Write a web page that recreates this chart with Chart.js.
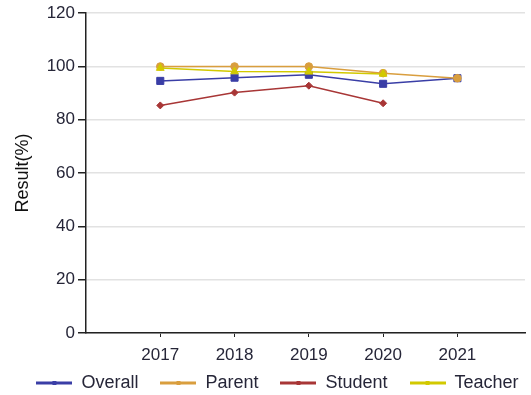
<!DOCTYPE html>
<html>
<head>
<meta charset="utf-8">
<script src="https://cdn.jsdelivr.net/npm/chart.js@4"></script>
<style>
  html, body { margin: 0; padding: 0; background: #fff; }
  #wrap { width: 531px; height: 395px; }
</style>
</head>
<body>
<div id="wrap"><canvas id="resultChart"></canvas></div>
<script>
// ─── DATA ──────────────────────────────────────────
const years = [2017, 2018, 2019, 2020, 2021];
const overall = [94.6, 95.8, 96.9, 93.5, 95.6];
const parent = [100, 100, 100, 97.5, 95.6];
const student = [85.4, 90.2, 92.8, 86.2, null];
const teacher = [99.4, 98.1, 98.0, 97.2, null];
const yTicks = [0, 20, 40, 60, 80, 100, 120];

const SERIES = [
    { label: 'Overall', values: overall, color: '#3a3ea6', style: 'rect', radius: 5, order: 3 },
    { label: 'Parent', values: parent, color: '#d99e3e', style: 'circle', radius: 3.8, order: 1 },
    { label: 'Student', values: student, color: '#a83636', style: 'rectRot', radius: 3.5, order: 2 },
    { label: 'Teacher', values: teacher, color: '#d2c900', style: 'triangle', radius: 4.5, order: 0 }
];

const TEXT = '#262638';
const FONT = "'Liberation Sans', Arial, sans-serif";

// small line + marker swatch for the legend
function swatch(s) {
    const c = document.createElement('canvas');
    c.width = 36; c.height = 10;
    const g = c.getContext('2d');
    g.strokeStyle = s.color;
    g.lineWidth = 3;
    g.beginPath(); g.moveTo(0, 5); g.lineTo(36, 5); g.stroke();
    g.fillStyle = s.color;
    g.fillRect(16, 3, 4, 4);
    return c;
}

// legend row sits a little right of centre and tucks up under the year labels
const legendShift = {
    id: 'legendShift',
    afterLayout(chart) {
        const lg = chart.legend;
        if (!lg) return;
        lg.left += 12;
        lg.right += 12;
        lg.top -= 12;
    }
};

const datasets = SERIES.map(s => ({
    label: s.label,
    data: years.map((x, i) => ({ x, y: s.values[i] })),
    borderColor: s.color,
    backgroundColor: s.color,
    borderWidth: 1.5,
    pointStyle: s.style,
    pointRadius: s.radius,
    pointBorderWidth: 1,
    pointBackgroundColor: s.color,
    pointBorderColor: s.color,
    tension: 0,
    spanGaps: false,
    order: s.order
}));

new Chart(document.getElementById('resultChart'), {
    type: 'line',
    data: { datasets },
    plugins: [legendShift],
    options: {
        responsive: true,
        maintainAspectRatio: false,
        animation: false,
        layout: { padding: { top: 13, left: 0, right: 0, bottom: 0 } },
        plugins: {
            tooltip: { enabled: false },
            legend: {
                position: 'bottom',
                maxHeight: 31,
                labels: {
                    color: TEXT,
                    font: { family: FONT, size: 18 },
                    usePointStyle: true,
                    pointStyleWidth: 36,
                    boxHeight: 10,
                    padding: 22,
                    generateLabels: () => SERIES.map((s, i) => ({
                        text: s.label,
                        pointStyle: swatch(s),
                        fillStyle: s.color,
                        strokeStyle: s.color,
                        lineWidth: 0,
                        fontColor: TEXT,
                        hidden: false,
                        datasetIndex: i
                    }))
                }
            }
        },
        scales: {
            x: {
                type: 'linear',
                min: 2016,
                max: 2021.91,
                afterBuildTicks: (scale) => { scale.ticks = years.map(v => ({ value: v })); },
                afterFit: (scale) => { scale.height = 31; },
                border: { color: '#222', width: 1.5 },
                grid: { drawOnChartArea: false, tickLength: 4, tickColor: '#222' },
                ticks: {
                    color: TEXT,
                    font: { family: FONT, size: 17 },
                    padding: 8,
                    maxRotation: 0,
                    callback: (v) => String(v)
                }
            },
            y: {
                min: 0,
                max: 120,
                afterBuildTicks: (scale) => { scale.ticks = yTicks.map(v => ({ value: v })); },
                afterFit: (scale) => { scale.width = 86; },
                border: { color: '#222', width: 1.5 },
                grid: { color: '#e2e2e2', lineWidth: 1.5, tickLength: 8, tickColor: '#222' },
                ticks: {
                    color: TEXT,
                    font: { family: FONT, size: 17 },
                    padding: 3
                },
                title: {
                    display: true,
                    text: 'Result(%)',
                    color: '#111',
                    font: { family: FONT, size: 18 },
                    padding: { top: 12, bottom: 0 }
                }
            }
        }
    }
});
</script>
</body>
</html>
